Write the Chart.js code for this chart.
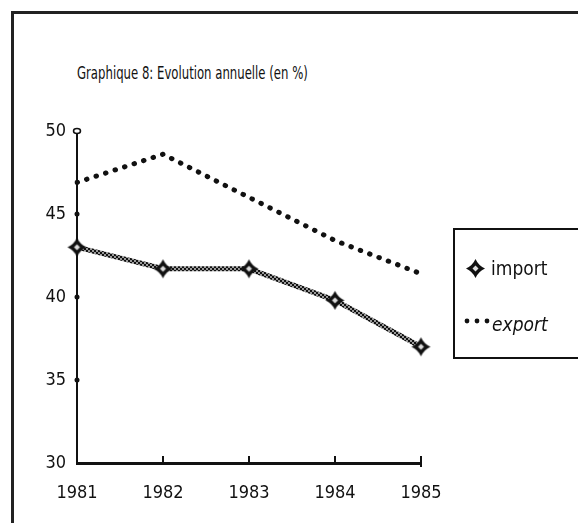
<!DOCTYPE html>
<html>
<head>
<meta charset="utf-8">
<script src="https://cdn.jsdelivr.net/npm/chart.js@4/dist/chart.umd.min.js"></script>
<style>
  html, body { margin: 0; padding: 0; background: #fff; }
  #wrap { position: relative; width: 578px; height: 523px; overflow: hidden; }
  #frame { position: absolute; left: 11px; top: 11px; width: 600px; height: 600px;
           border-left: 3px solid #222; border-top: 3px solid #222; }
  #title { position: absolute; left: 77px; top: 63px; font: 17px "DejaVu Sans Condensed", "Liberation Sans", sans-serif;
           color: #111; white-space: nowrap; transform-origin: 0 0; }
  canvas { position: absolute; left: 0; top: 0; }
</style>
</head>
<body>
<div id="wrap">
  <div id="frame"></div>
  <div id="title">Graphique 8: Evolution annuelle (en %)</div>
  <canvas id="chart" width="578" height="523"></canvas>
</div>
<script>
// =============================
// DATA
// =============================

const years = ["1981", "1982", "1983", "1984", "1985"];
const importValues = [43.0, 41.7, 41.7, 39.8, 37.0];
const exportValues = [46.9, 48.6, 46.0, 43.4, 41.4];
const yTicks = [30, 35, 40, 45, 50];

const FONT = '"DejaVu Sans Condensed", "Liberation Sans", sans-serif';


// squeeze the title to the width of the original
const titleEl = document.getElementById("title");
titleEl.style.transform = "scaleX(" + (231 / titleEl.offsetWidth) + ")";


// =============================
// MARKER + LINE TEXTURE
// =============================

function makeStar(size) {
    const c = document.createElement("canvas");
    c.width = size; c.height = size;
    const g = c.getContext("2d");
    const m = size / 2, r = size / 2 - 1, k = size * 0.14;
    g.beginPath();
    g.moveTo(m, m - r);
    g.quadraticCurveTo(m + k, m - k, m + r, m);
    g.quadraticCurveTo(m + k, m + k, m, m + r);
    g.quadraticCurveTo(m - k, m + k, m - r, m);
    g.quadraticCurveTo(m - k, m - k, m, m - r);
    g.fillStyle = "#111";
    g.fill();
    g.beginPath();
    g.moveTo(m, m - 3); g.lineTo(m + 3, m); g.lineTo(m, m + 3); g.lineTo(m - 3, m);
    g.closePath();
    g.fillStyle = "#ddd";
    g.fill();
    return c;
}

const star = makeStar(21);

function makeTexture() {
    const c = document.createElement("canvas");
    c.width = 4; c.height = 4;
    const g = c.getContext("2d");
    g.fillStyle = "#999";
    g.fillRect(0, 0, 4, 4);
    g.fillStyle = "#111";
    g.fillRect(0, 0, 2, 2);
    g.fillRect(2, 2, 2, 2);
    return g.createPattern(c, "repeat");
}


// =============================
// PLUGINS
// =============================

const axisMarks = {
    id: "axisMarks",
    afterDraw(chart) {
        const { ctx, scales: { x, y } } = chart;
        ctx.save();
        ctx.strokeStyle = "#111";
        ctx.fillStyle = "#111";
        ctx.lineWidth = 2;
        years.forEach((yr, i) => {
            if (i === 0) return;
            const px = x.getPixelForValue(i);
            ctx.beginPath();
            ctx.moveTo(px, y.bottom - 7);
            ctx.lineTo(px, y.bottom + (i === years.length - 1 ? 4 : 1));
            ctx.stroke();
        });
        yTicks.forEach(v => {
            if (v === 30) return;
            const py = y.getPixelForValue(v);
            ctx.beginPath();
            if (v === 50) {
                ctx.lineWidth = 1.5;
                ctx.fillStyle = "#fff";
                ctx.ellipse(x.left, py, 3.5, 2.5, 0, 0, Math.PI * 2);
                ctx.fill();
                ctx.stroke();
            } else {
                ctx.fillStyle = "#111";
                ctx.arc(x.left, py, 2.5, 0, Math.PI * 2);
                ctx.fill();
            }
        });
        ctx.restore();
    }
};

const boxLegend = {
    id: "boxLegend",
    afterDraw(chart) {
        const ctx = chart.ctx;
        const ds = chart.data.datasets;
        ctx.save();
        ctx.strokeStyle = "#111";
        ctx.lineWidth = 2;
        ctx.strokeRect(454, 229, 140, 129);

        ctx.drawImage(star, 465, 258);
        ctx.fillStyle = "#111";
        ctx.font = "19px " + FONT;
        ctx.textBaseline = "middle";
        ctx.fillText(ds[0].label, 491, 270);

        [467, 477, 487].forEach(px => {
            ctx.beginPath();
            ctx.arc(px, 321, 2.4, 0, Math.PI * 2);
            ctx.fill();
        });
        ctx.font = "italic 19px " + FONT;
        ctx.fillText(ds[1].label, 492, 326);
        ctx.restore();
    }
};


// =============================
// CHART
// =============================

new Chart(document.getElementById("chart"), {
    type: "line",
    data: {
        labels: years,
        datasets: [
            {
                label: "import",
                data: importValues,
                borderColor: makeTexture(),
                borderWidth: 5,
                pointStyle: star,
                pointRadius: 10,
                tension: 0
            },
            {
                label: "export",
                data: exportValues,
                borderColor: "#111",
                borderWidth: 5,
                borderDash: [0.5, 9.5],
                borderCapStyle: "round",
                pointRadius: 0,
                tension: 0
            }
        ]
    },
    options: {
        responsive: false,
        animation: false,
        layout: { padding: { top: 131, right: 157, left: 0, bottom: 0 } },
        plugins: {
            legend: { display: false },
            tooltip: { enabled: false }
        },
        scales: {
            x: {
                offset: false,
                afterFit: s => { s.height = 60; },
                grid: { display: false, drawTicks: false },
                border: { display: true, color: "#111", width: 3 },
                ticks: {
                    padding: 20,
                    color: "#111",
                    font: { family: FONT, size: 18 }
                }
            },
            y: {
                min: 30,
                max: 50,
                afterFit: s => { s.width = 77; },
                afterBuildTicks: s => { s.ticks = yTicks.map(v => ({ value: v })); },
                grid: { display: false, drawTicks: false },
                border: { display: true, color: "#111", width: 2 },
                ticks: {
                    padding: 11,
                    color: "#111",
                    font: { family: FONT, size: 18 }
                }
            }
        }
    },
    plugins: [axisMarks, boxLegend]
});
</script>
</body>
</html>
